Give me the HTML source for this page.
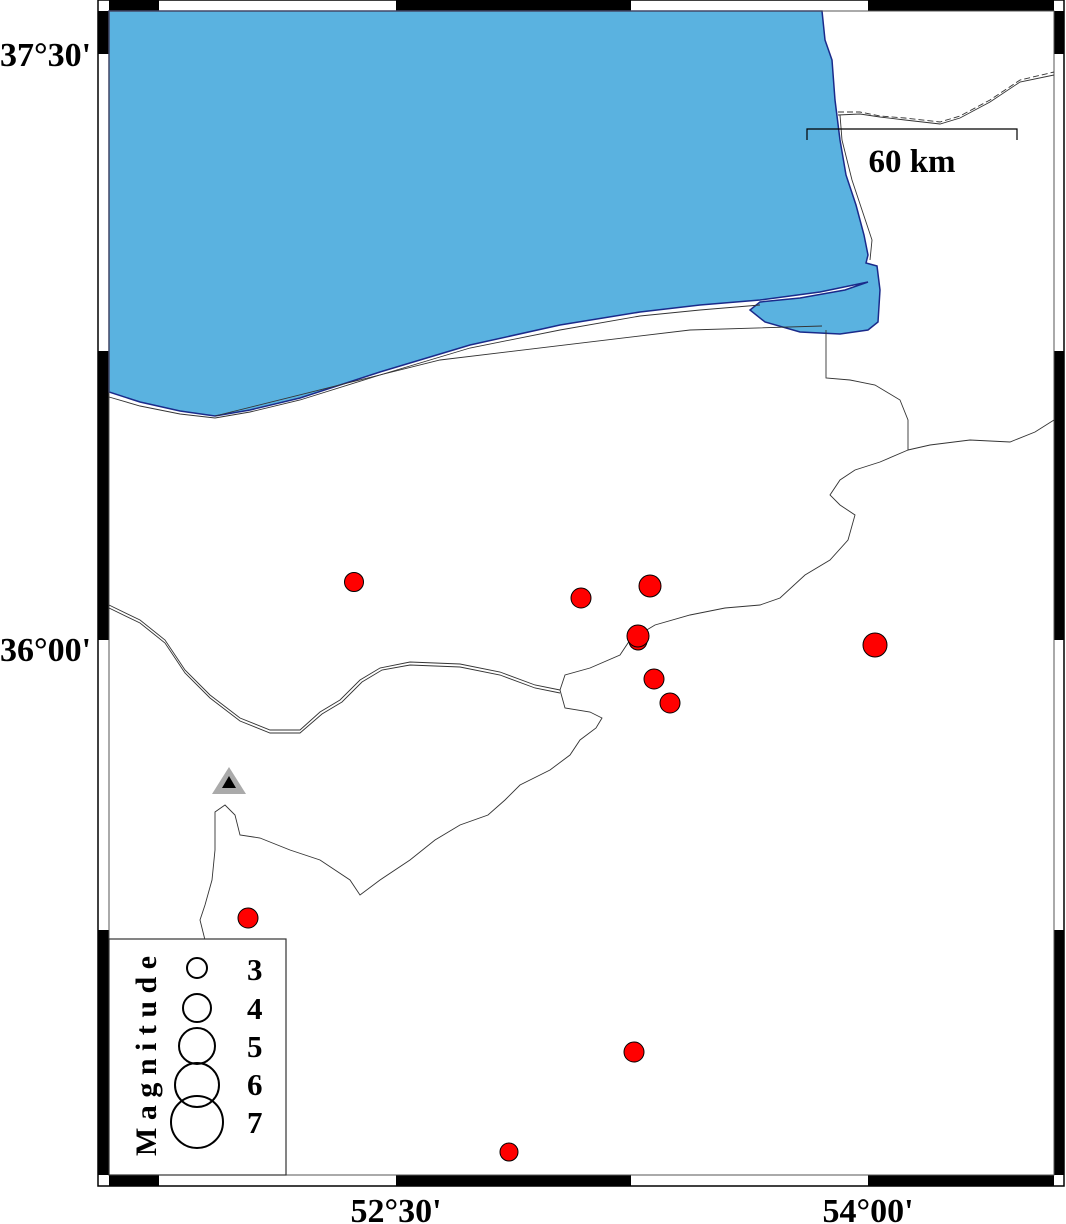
<!DOCTYPE html>
<html><head><style>body{margin:0;background:#fff}svg{display:block}</style></head><body>
<svg width="1066" height="1224" viewBox="0 0 1066 1224" xmlns="http://www.w3.org/2000/svg" font-family="Liberation Serif, serif" font-weight="bold">
<rect x="98" y="0" width="966" height="1186" fill="#fff" stroke="#000" stroke-width="1.5"/>
<g fill="#000">
<rect x="109" y="0" width="50" height="11"/><rect x="396" y="0" width="235" height="11"/><rect x="868" y="0" width="186" height="11"/>
<rect x="109" y="1175" width="50" height="11"/><rect x="396" y="1175" width="235" height="11"/><rect x="868" y="1175" width="186" height="11"/>
<rect x="98" y="11" width="11" height="43"/><rect x="98" y="351" width="11" height="289"/><rect x="98" y="930" width="11" height="245"/>
<rect x="1054" y="11" width="10" height="43"/><rect x="1054" y="351" width="10" height="289"/><rect x="1054" y="930" width="10" height="245"/>
</g>
<path d="M109,11 L822,11 L825,40 L832,60 L835,100 L840,140 L846,175 L856,205 L864,235 L868,255 L866,263 L877,266 L880,290 L878,322 L868,330 L840,334 L800,332 L765,322 L750,310 L760,302 L800,298 L845,290 L868,282 L820,292 L760,300 L700,305 L640,312 L560,325 L470,345 L380,372 L300,398 L250,410 L215,416 L180,411 L140,402 L109,392 Z" fill="#5ab2e0" stroke="#1a2a8a" stroke-width="1.5"/>
<rect x="109" y="11" width="945" height="1164" fill="none" stroke="#555" stroke-width="1"/>
<g fill="none" stroke="#333" stroke-width="0.9">
<path d="M109,397 L140,406 L180,414 L215,418 L250,412 L300,400 L380,375 L470,348 L560,330 L640,316 L700,310 L760,305"/>
<path d="M215,416 L440,360 L690,330 L822,326"/>
<path d="M838,112 L860,112 L880,116 L905,118 L940,122 L960,116 L990,100 L1020,80 L1054,72" stroke-dasharray="6,3"/>
<path d="M838,115 L860,114 L880,117 L905,120 L940,124 L960,118 L990,102 L1020,82 L1054,75"/>
<path d="M840,115 L842,140 L852,180 L862,210 L872,240 L870,260"/>
<path d="M826,330 L826,378 L850,380 L875,385 L900,400 L908,420 L908,450 L930,445 L970,440 L1010,442 L1035,432 L1054,420"/>
<path d="M908,450 L880,462 L855,470 L840,480 L830,495 L840,505 L855,515 L848,540 L830,560 L805,575 L780,598 L760,605 L725,608 L690,615 L655,625 L630,640 L620,655 L590,668 L565,675 L560,690 L565,708 L590,712 L602,718 L596,728 L580,740 L570,755 L550,770 L520,785 L505,800 L488,815 L460,825 L435,840 L410,860 L380,880 L360,895 L350,880 L320,860 L290,850 L260,838 L240,835 L235,815 L225,805 L215,812 L215,850 L212,880 L205,905 L200,920 L205,940"/>
<path d="M109,605 L140,620 L165,640 L185,670 L210,695 L240,718 L270,730 L300,730 L320,712 L340,700 L360,680 L380,668 L410,662 L460,664 L500,672 L535,685 L560,690"/>
<path d="M109,608 L140,623 L165,643 L185,673 L210,698 L240,721 L270,733 L300,733 L322,714 L342,702 L362,682 L382,670 L410,665 L460,667 L500,675 L535,688 L560,693"/>
</g>
<path d="M807,140 L807,129 L1017,129 L1017,140" fill="none" stroke="#000" stroke-width="1.2"/>
<text x="912" y="172" font-size="33" text-anchor="middle">60 km</text>
<g fill="#ff0000" stroke="#000" stroke-width="1">
<circle cx="354" cy="582" r="9.5"/><circle cx="581" cy="598" r="10"/><circle cx="650" cy="586" r="11"/>
<circle cx="638" cy="641" r="9"/><circle cx="638" cy="636" r="11"/><circle cx="654" cy="679" r="10"/><circle cx="670" cy="703" r="10"/>
<circle cx="875" cy="645" r="12"/><circle cx="248" cy="918" r="10"/><circle cx="634" cy="1052" r="10"/><circle cx="509" cy="1152" r="9"/>
</g>
<polygon points="229,767 246,794 212,794" fill="#aaa"/>
<polygon points="229,776 236,788 222,788" fill="#000"/>
<rect x="109" y="939" width="177" height="236" fill="#fff" stroke="#333" stroke-width="1.2"/>
<g fill="none" stroke="#000" stroke-width="2">
<circle cx="197" cy="968" r="10"/><circle cx="197" cy="1008" r="14"/><circle cx="197" cy="1046" r="18"/><circle cx="197" cy="1085" r="22"/><circle cx="197" cy="1122" r="26"/>
</g>
<g font-size="31">
<text x="247" y="980">3</text><text x="247" y="1019">4</text><text x="247" y="1057">5</text><text x="247" y="1095">6</text><text x="247" y="1133">7</text>
</g>
<text transform="translate(156,1156) rotate(-90)" font-size="30" letter-spacing="7.5">Magnitude</text>
<g font-size="34">
<text x="0" y="66">37°30'</text><text x="0" y="661">36°00'</text>
<text x="396" y="1222" text-anchor="middle">52°30'</text><text x="868" y="1222" text-anchor="middle">54°00'</text>
</g>
</svg>
</body></html>
